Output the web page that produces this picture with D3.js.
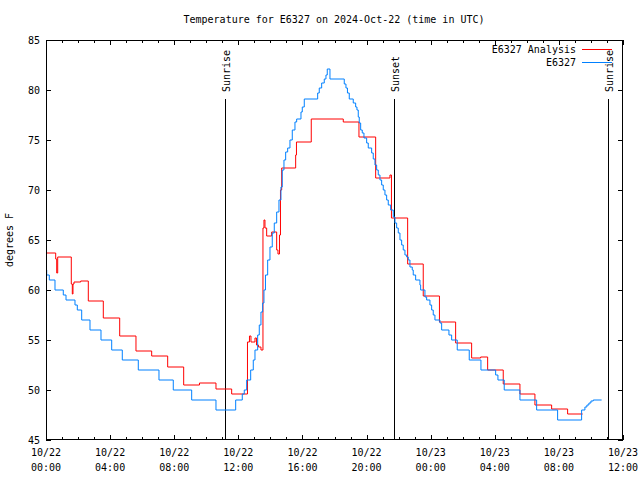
<!DOCTYPE html>
<html><head><meta charset="utf-8">
<script src="https://cdn.jsdelivr.net/npm/d3@7"></script>
<style>body{margin:0;background:#fff}svg{display:block}text{font-family:"DejaVu Sans Mono",monospace;font-size:10px;fill:#000}</style>
</head><body>
<svg id="c" width="640" height="480"></svg>
<script>
const chartTitle = "Temperature for E6327 on 2024-Oct-22 (time in UTC)";
const yAxisLabel = "degrees F";
const seriesNames = ["E6327 Analysis", "E6327"];
const seriesColors = ["#ff0000", "#0080ff"];
const yTickValues = [45, 50, 55, 60, 65, 70, 75, 80, 85];
const xMajorHours = [0, 4, 8, 12, 16, 20, 24, 28, 32, 36];
const xTickDates = ["10/22", "10/22", "10/22", "10/22", "10/22", "10/22", "10/23", "10/23", "10/23", "10/23"];
const xTickTimes = ["00:00", "04:00", "08:00", "12:00", "16:00", "20:00", "00:00", "04:00", "08:00", "12:00"];
const sunNames = ["Sunrise", "Sunset", "Sunrise"];
const sunHours = [11.185, 21.728, 35.078];

// hours since 10/22 00:00 UTC
const analysisHours = [0,0.605,0.668,0.730,1.578,1.641,1.684,1.747,2.165,2.639,3.575,4.598,5.614,6.594,7.592,8.590,9.576,10.605,11.584,12.570,12.695,12.789,13.038,13.132,13.256,13.412,13.537,13.599,13.662,13.768,14.080,14.392,14.473,14.567,14.629,14.704,15.577,15.627,16.550,18.547,19.526,20.568,21.460,21.553,22.564,23.537,24.548,25.558,26.556,27.118,27.555,28.528,29.570,30.505,31.547,32.545,33.481];
const analysisTemps = [63.7,63.1,61.7,63.3,60.6,59.6,60.6,60.8,60.9,58.9,57.2,55.4,53.9,53.4,52.3,50.5,50.7,50.1,49.6,54.8,55.4,54.8,55.2,54.5,54.3,54.0,66.2,67.0,66.2,65.4,65.8,64.0,63.6,65.5,70.0,72.2,73.5,74.8,77.1,76.8,75.3,71.2,71.5,67.2,62.6,59.4,56.8,54.7,53.2,53.3,52.0,50.6,49.6,48.5,48.1,47.6,47.6];

const obsHours = [0,0.044,0.206,0.561,1.079,1.248,1.809,1.953,2.227,2.745,3.431,4.099,4.760,5.758,7.049,7.941,9.089,10.605,11.834,12.246,12.371,12.520,12.770,12.932,13.038,13.206,13.306,13.412,13.518,13.599,13.693,13.830,13.974,14.117,14.242,14.392,14.535,14.660,14.741,14.847,14.953,15.078,15.221,15.365,15.533,15.639,15.908,15.989,16.114,16.950,17.049,17.199,17.361,17.467,17.548,17.717,18.609,18.715,18.808,18.921,19.170,19.320,19.401,19.482,19.545,19.632,19.732,19.838,20.006,20.106,20.318,20.418,20.524,20.630,20.730,20.836,20.942,21.042,21.148,21.254,21.354,21.503,21.666,21.772,21.878,21.978,22.084,22.190,22.289,22.395,22.502,22.602,22.707,22.851,22.913,23.063,23.331,23.375,23.643,23.749,23.955,24.061,24.161,24.267,24.579,24.685,25.140,25.309,25.658,26.407,27.137,28.054,28.197,28.590,29.570,30.611,31.921,33.418,33.624,33.749,33.874,33.999,34.143,34.666];
const obsTemps = [62,61.5,61,60,59.5,59,58.5,58,57,56,55,54,53,52,51,50,49,48,49,49.6,50,51,52,53,54,55.5,56.5,57.8,58.7,60,61.5,63,64.3,65.7,66.7,67.8,69,70.3,72,73,73.8,74.2,75,76,76.8,77.1,77.8,78.3,79.1,79.7,80.2,80.7,81.1,81.5,82.1,81.1,80.6,80.2,79.7,79.1,78.7,78.3,78.0,77.3,76.7,76,75.7,75.2,74.7,74.2,73.7,73.1,72.5,72,71.5,71,70.5,70,69.5,69,68.5,68,67.3,66.7,66.2,65.7,65,64.5,64,63.5,63.3,63,62.3,62,61.5,61,60.5,60,59.3,59,58.5,58,57.5,57,56.7,56,55.5,55,54,53,52,51.5,51,50,49,48,47,48,48.3,48.5,48.7,48.9,49,49];

const svg = d3.select("#c");
const L = 46, R = 623, T = 40, B = 440;
const x = d3.scaleLinear().domain([0, 36]).range([L, R]);
const y = d3.scaleLinear().domain([45, 85]).range([B, T]);

svg.append("text").attr("x", 334).attr("y", 23).attr("text-anchor", "middle").text(chartTitle);
svg.append("text").attr("transform", `translate(13,${(T + B) / 2}) rotate(-90)`).attr("text-anchor", "middle").text(yAxisLabel);

const allHours = d3.range(0, 37, 1);
function tickGroup(axis, tr) {
  const g = svg.append("g").attr("transform", tr).call(axis);
  g.select(".domain").remove();
  g.selectAll("line").attr("stroke", "#000").attr("shape-rendering", "crispEdges");
  return g;
}
tickGroup(d3.axisBottom(x).tickValues(allHours).tickSize(-3).tickFormat(""), `translate(0,${B})`);
tickGroup(d3.axisBottom(x).tickValues(xMajorHours).tickSize(-5).tickFormat(""), `translate(0,${B})`);
tickGroup(d3.axisTop(x).tickValues(allHours).tickSize(-3).tickFormat(""), `translate(0,${T})`);
tickGroup(d3.axisTop(x).tickValues(xMajorHours).tickSize(-5).tickFormat(""), `translate(0,${T})`);
const gy = tickGroup(d3.axisLeft(y).tickValues(yTickValues).tickSize(-5).tickPadding(6).tickFormat(d3.format("d")), `translate(${L},0)`);
gy.selectAll("text").attr("font-family", null).attr("font-size", null);
tickGroup(d3.axisRight(y).tickValues(yTickValues).tickSize(-5).tickFormat(""), `translate(${R},0)`);

xMajorHours.forEach((h, i) => {
  const t = svg.append("text").attr("x", x(h)).attr("y", 456).attr("text-anchor", "middle");
  t.append("tspan").attr("x", x(h)).attr("dy", 0).text(xTickDates[i]);
  t.append("tspan").attr("x", x(h)).attr("dy", 15).text(xTickTimes[i]);
});

sunHours.forEach((h, i) => {
  const xp = Math.round(x(h)) + 0.5;
  svg.append("line").attr("x1", xp).attr("x2", xp).attr("y1", y(79.1)).attr("y2", B)
    .attr("stroke", "#000").attr("stroke-width", 1).attr("shape-rendering", "crispEdges");
  svg.append("text").attr("transform", `translate(${xp + 4},${y(79.8)}) rotate(-90)`).text(sunNames[i]);
});

const line = d3.line().curve(d3.curveStepAfter).x(d => x(d[0])).y(d => y(d[1]));
const series = [d3.zip(analysisHours, analysisTemps), d3.zip(obsHours, obsTemps)];
[0, 1].forEach(i => {
  svg.append("path").attr("d", line(series[i])).attr("fill", "none")
    .attr("stroke", seriesColors[i]).attr("stroke-width", 1);
});

svg.append("rect").attr("x", L + 0.5).attr("y", T + 0.5).attr("width", R - L - 1).attr("height", B - T - 1)
  .attr("fill", "none").attr("stroke", "#000").attr("shape-rendering", "crispEdges");

seriesNames.forEach((n, i) => {
  const ly = 49 + i * 13;
  svg.append("text").attr("x", 576).attr("y", ly + 3.5).attr("text-anchor", "end").text(n);
  svg.append("line").attr("x1", 582).attr("x2", 612).attr("y1", ly + 0.5).attr("y2", ly + 0.5)
    .attr("stroke", seriesColors[i]).attr("stroke-width", 1).attr("shape-rendering", "crispEdges");
});
</script>
</body></html>
